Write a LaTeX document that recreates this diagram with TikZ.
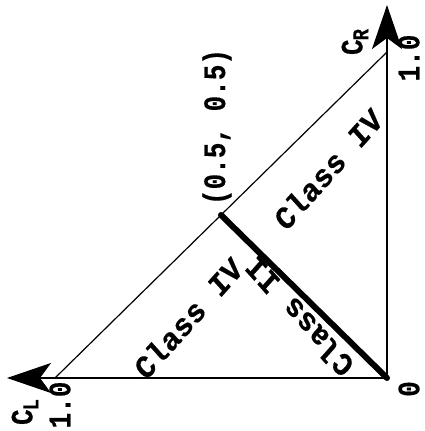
\documentclass[tikz,border=0pt]{standalone}
\usepackage{fontspec}
\setmonofont{Liberation Mono}[BoldFeatures={FakeBold=0.35}]
\usetikzlibrary{arrows.meta,calc}

\begin{document}
\begin{tikzpicture}[x=1pt,y=-1pt,
    axisline/.style={line width=1.5pt,-{Stealth[length=44pt,width=30pt,inset=11pt]}},
    numlbl/.style={font=\ttfamily\bfseries\fontsize{26}{26}\selectfont,inner sep=0pt,rotate=90,yscale=1.2},
    classlbl/.style={font=\ttfamily\bfseries\fontsize{29}{29}\selectfont,inner sep=0pt,yscale=1.12}]
  \useasboundingbox (0,0) rectangle (425,431);
  % corners of the triangle
  \coordinate (O) at (387,378);
  \coordinate (R) at (387,52);
  \coordinate (L) at (55,378);
  \coordinate (rtip) at (387,5);
  \coordinate (ltip) at (7,378);
  \coordinate (M) at ($(L)!0.5!(R)$);
  \draw[axisline] (O) -- (rtip);
  \draw[axisline] (O) -- (ltip);
  \draw[line width=1.2pt] (L) -- (R);
  \draw[line width=6pt,line cap=round] (O) -- (M);
  % axis labels
  \node[numlbl] (zero) at (409,389) {0};
  \node[numlbl] (oneR) at (409,58) {1.0};
  \node[numlbl] (oneL) at (60,405) {1.0};
  \node[numlbl] (cR) at (355,42) {C\kern-1pt{\fontsize{19}{19}\selectfont\raisebox{-5pt}{R}}};
  \node[numlbl] (cL) at (25,412) {C\kern-1pt{\fontsize{19}{19}\selectfont\raisebox{-5pt}{L}}};
  \node[numlbl] (mid) at (217,127) {(0.5, 0.5)};
  % regions
  \node[classlbl,rotate=45] (upIV) at (328,169) {Class IV};
  \node[classlbl,rotate=45] (lowIV) at (188,318) {Class IV};
  \node[classlbl,rotate=135] (II) at (299,317) {Class II};
\end{tikzpicture}
\end{document}
